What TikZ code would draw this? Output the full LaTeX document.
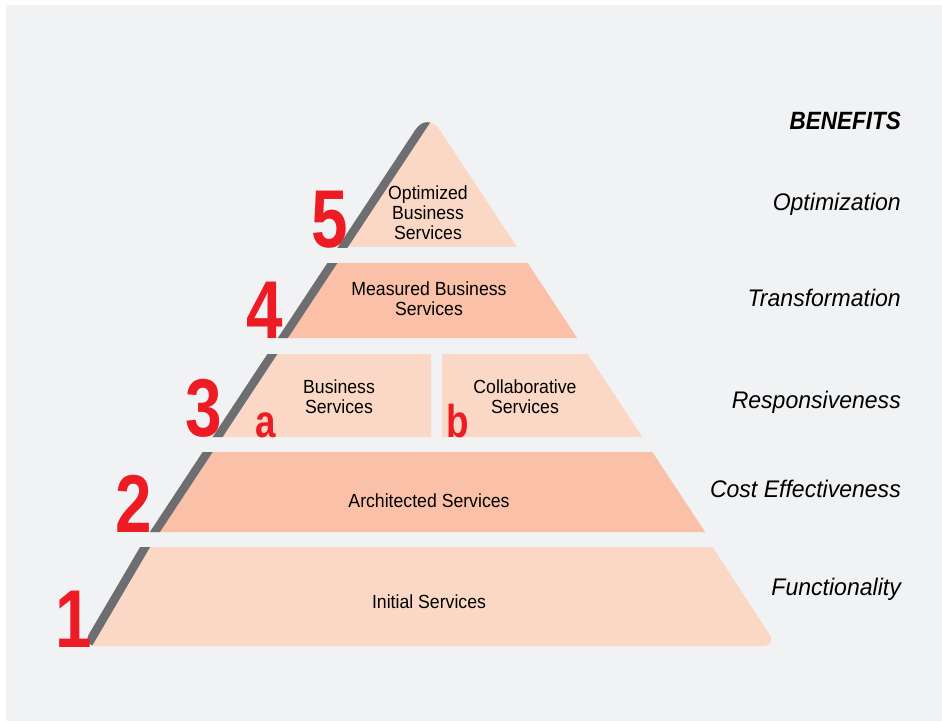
\documentclass[tikz,border=0pt]{standalone}
\usepackage{fontspec}
\setmainfont{Liberation Sans}
\newfontfamily\condfont[FakeStretch=0.93]{Liberation Sans}
\newfontfamily\numfont[FakeStretch=0.8]{Liberation Sans}
\newfontfamily\headfont[FakeStretch=0.9]{Liberation Sans}
\newfontfamily\benefitfont[FakeStretch=0.96]{Liberation Sans}
\definecolor{bgcol}{HTML}{F1F2F4}
\definecolor{palepeach}{HTML}{FBD8C6}
\definecolor{deeppeach}{HTML}{FAC0A8}
\definecolor{edgegray}{HTML}{6D6E71}
\definecolor{levelred}{HTML}{ED1C24}
\begin{document}
\begin{tikzpicture}[x=1pt, y=-1pt,
    tier/.style={font=\condfont\fontsize{19}{20}\selectfont, align=center, inner sep=0pt},
    level/.style={font=\numfont\bfseries\fontsize{82}{82}\selectfont, text=levelred, anchor=base, inner sep=0pt},
    sublevel/.style={font=\numfont\bfseries\fontsize{46}{46}\selectfont, text=levelred, anchor=base, inner sep=0pt},
    benefit/.style={font=\benefitfont\itshape\fontsize{24}{24}\selectfont, anchor=base east, inner sep=0pt}]
    \useasboundingbox (0,0) rectangle (942,721);
    \fill (0,0) rectangle (942,721) [color = white];
    \fill (6,5) rectangle (942,721) [color = bgcol];
    % level 5, rounded apex
    \begin{scope}
        \clip (0,0) rectangle (942,247);
        \clip [rounded corners=22] (427.5,111.4) -- (535.5,275) -- (319.5,275) -- cycle;
        \fill (300,100) rectangle (560,247) [color = palepeach];
        \fill (441.6,90) -- (451.6,90) -- (339.4,260) -- (329.4,260) -- cycle [color = edgegray];
    \end{scope}
    % level 4
    \fill (327.4,263) -- (527.6,263) -- (577.1,338) -- (277.9,338) -- cycle [color = deeppeach];
    \fill (327.4,263) -- (337.4,263) -- (287.9,338) -- (277.9,338) -- cycle [color = edgegray];
    % level 3, a and b
    \fill (267.4,354) -- (431,354) -- (431,437) -- (212.6,437) -- cycle [color = palepeach];
    \fill (442,354) -- (587.6,354) -- (642.4,437) -- (442,437) -- cycle [color = palepeach];
    \fill (267.4,354) -- (277.4,354) -- (222.6,437) -- (212.6,437) -- cycle [color = edgegray];
    % level 2
    \fill (202.7,452) -- (652.3,452) -- (705.1,532) -- (149.9,532) -- cycle [color = deeppeach];
    \fill (202.7,452) -- (212.7,452) -- (159.9,532) -- (149.9,532) -- cycle [color = edgegray];
    % level 1, rounded base
    \begin{scope}
        \clip (0,547) rectangle (942,721);
        \clip [rounded corners=14] (156,520) -- (695,520) -- (777,646) -- (82,646) -- cycle;
        \fill (60,530) rectangle (800,660) [color = palepeach];
        \fill (156,520) -- (166,520) -- (92,646) -- (82,646) -- cycle [color = edgegray];
    \end{scope}

    \node[tier] (optimized) at (428,213) {Optimized\\Business\\Services};
    \node[tier] (measured) at (429,299) {Measured Business\\Services};
    \node[tier] (business) at (339,397) {Business\\Services};
    \node[tier] (collaborative) at (525,397) {Collaborative\\Services};
    \node[tier, anchor=base] (architected) at (429,507) {Architected Services};
    \node[tier, anchor=base] (initial) at (429,608) {Initial Services};

    \node[level] (lvl1) at (74,647) {1};
    \node[level] (lvl2) at (133.5,532) {2};
    \node[level] (lvl3) at (203.5,436) {3};
    \node[level] (lvl4) at (265,338) {4};
    \node[level] (lvl5) at (329.5,247) {5};
    \node[sublevel] (lvl3a) at (265.5,437) {a};
    \node[sublevel] (lvl3b) at (457.5,437) {b};

    \node[benefit, font=\headfont\bfseries\itshape\fontsize{25}{25}\selectfont] (benefits) at (901,129) {BENEFITS};
    \node[benefit] (optimization) at (901,210) {Optimization};
    \node[benefit] (transformation) at (901,306) {Transformation};
    \node[benefit] (responsiveness) at (901,408) {Responsiveness};
    \node[benefit] (costeff) at (901,497) {Cost Effectiveness};
    \node[benefit] (functionality) at (901,595) {Functionality};
\end{tikzpicture}
\end{document}
